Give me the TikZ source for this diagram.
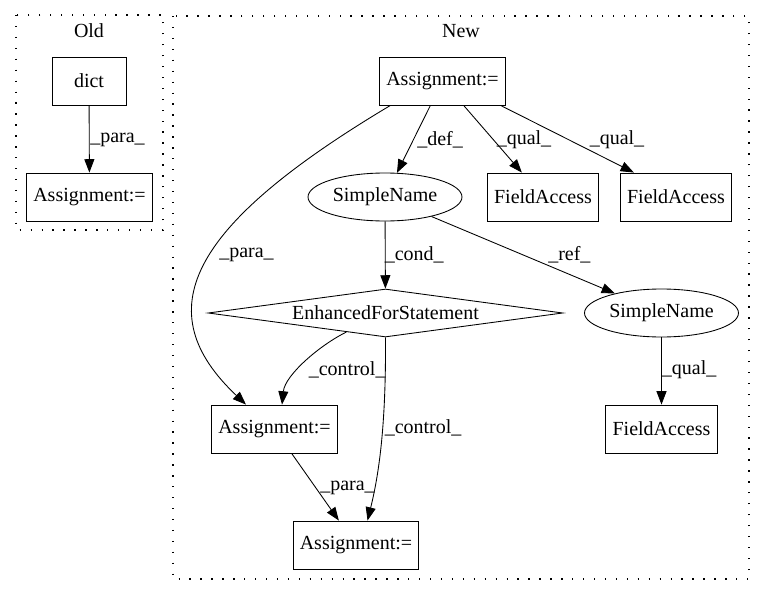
\documentclass[tikz,border=0pt]{standalone}
\usepackage{fontspec}
\setmainfont{Liberation Serif}
\usetikzlibrary{arrows.meta,shapes.geometric,calc}
\begin{document}
\begin{tikzpicture}[x=0.75pt,y=-0.75pt,
  every node/.style={font=\fontsize{15pt}{17pt}\selectfont, inner sep=0pt},
  box/.style={draw, line width=0.65pt, rectangle, minimum height=36pt, minimum width=#1},
  ell/.style={draw, line width=0.65pt, ellipse, minimum width=115.5pt, minimum height=36pt},
  dia/.style={draw, line width=0.65pt, diamond, aspect=7.4, minimum width=266pt, minimum height=36pt},
  edge/.style={draw, line width=0.65pt, -{Triangle[length=10pt,width=7.5pt]}},
  lbl/.style={anchor=west},
  cluster/.style={draw, line width=0.8pt, dash pattern=on 1pt off 7.2pt}]
\useasboundingbox (0,0) rectangle (765,596);

% clusters
\draw[cluster] (16,15) rectangle (163,230);
\node (oldlbl) at (89,31) {Old};
\draw[cluster] (173,16) rectangle (749,579);
\node (newlbl) at (461,31) {New};

% Old
\node[box=55.5pt] (dict) at (89,81) {dict};
\node[box=94pt] (oa) at (89.5,197) {Assignment:=};
\draw[edge] (dict) -- (oa);
\node[lbl] (l1) at (90,140) {\_para\_};

% New
\node[box=94pt] (ta) at (442.5,81) {Assignment:=};
\node[ell] (sn1) at (385,197) {SimpleName};
\node[box=83.5pt] (fa1) at (543,197) {FieldAccess};
\node[box=83.5pt] (fa2) at (676,197) {FieldAccess};
\node[dia] (efs) at (385.5,313) {EnhancedForStatement};
\node[ell] (sn2) at (661.5,313) {SimpleName};
\node[box=94pt] (ma) at (274.5,429) {Assignment:=};
\node[box=83.5pt] (fa3) at (661.5,429) {FieldAccess};
\node[box=94pt] (ba) at (356,545) {Assignment:=};

\draw[edge] (ta) -- (sn1);
\node[lbl] (l2) at (417,140) {\_def\_};
\draw[edge] (ta) -- (fa1);
\node[lbl] (l3) at (496.5,140) {\_qual\_};
\draw[edge] ($(ta.south east)+(-5,0)$) -- ($(fa2.north west)+(14,0)$);
\node[lbl] (l4) at (589.5,140) {\_qual\_};
\draw[edge] ($(ta.south west)+(11,0)$) .. controls (185,228) and (148,312) .. ($(ma.north)+(-28.5,0)$);
\node[lbl] (l5) at (219,255) {\_para\_};
\draw[edge] (sn1) -- (efs);
\node[lbl] (l6) at (384.5,255) {\_cond\_};
\draw[edge] (sn1) -- (sn2);
\node[lbl] (l7) at (548,255) {\_ref\_};
\draw[edge] ($(efs.west)!0.78!(efs.south)$) .. controls (320,345) and (285,375) .. ($(ma.north)+(7.5,0)$);
\node[lbl] (l8) at (308.6,370) {\_control\_};
\draw[edge] (efs.south) .. controls (386,420) and (380,470) .. ($(ba.north)+(11.5,0)$);
\node[lbl] (l9) at (384.5,428) {\_control\_};
\draw[edge] (ma) -- (ba);
\node[lbl] (l10) at (320,488) {\_para\_};
\draw[edge] (sn2) -- (fa3);
\node[lbl] (l11) at (661.7,370) {\_qual\_};
\end{tikzpicture}
\end{document}
